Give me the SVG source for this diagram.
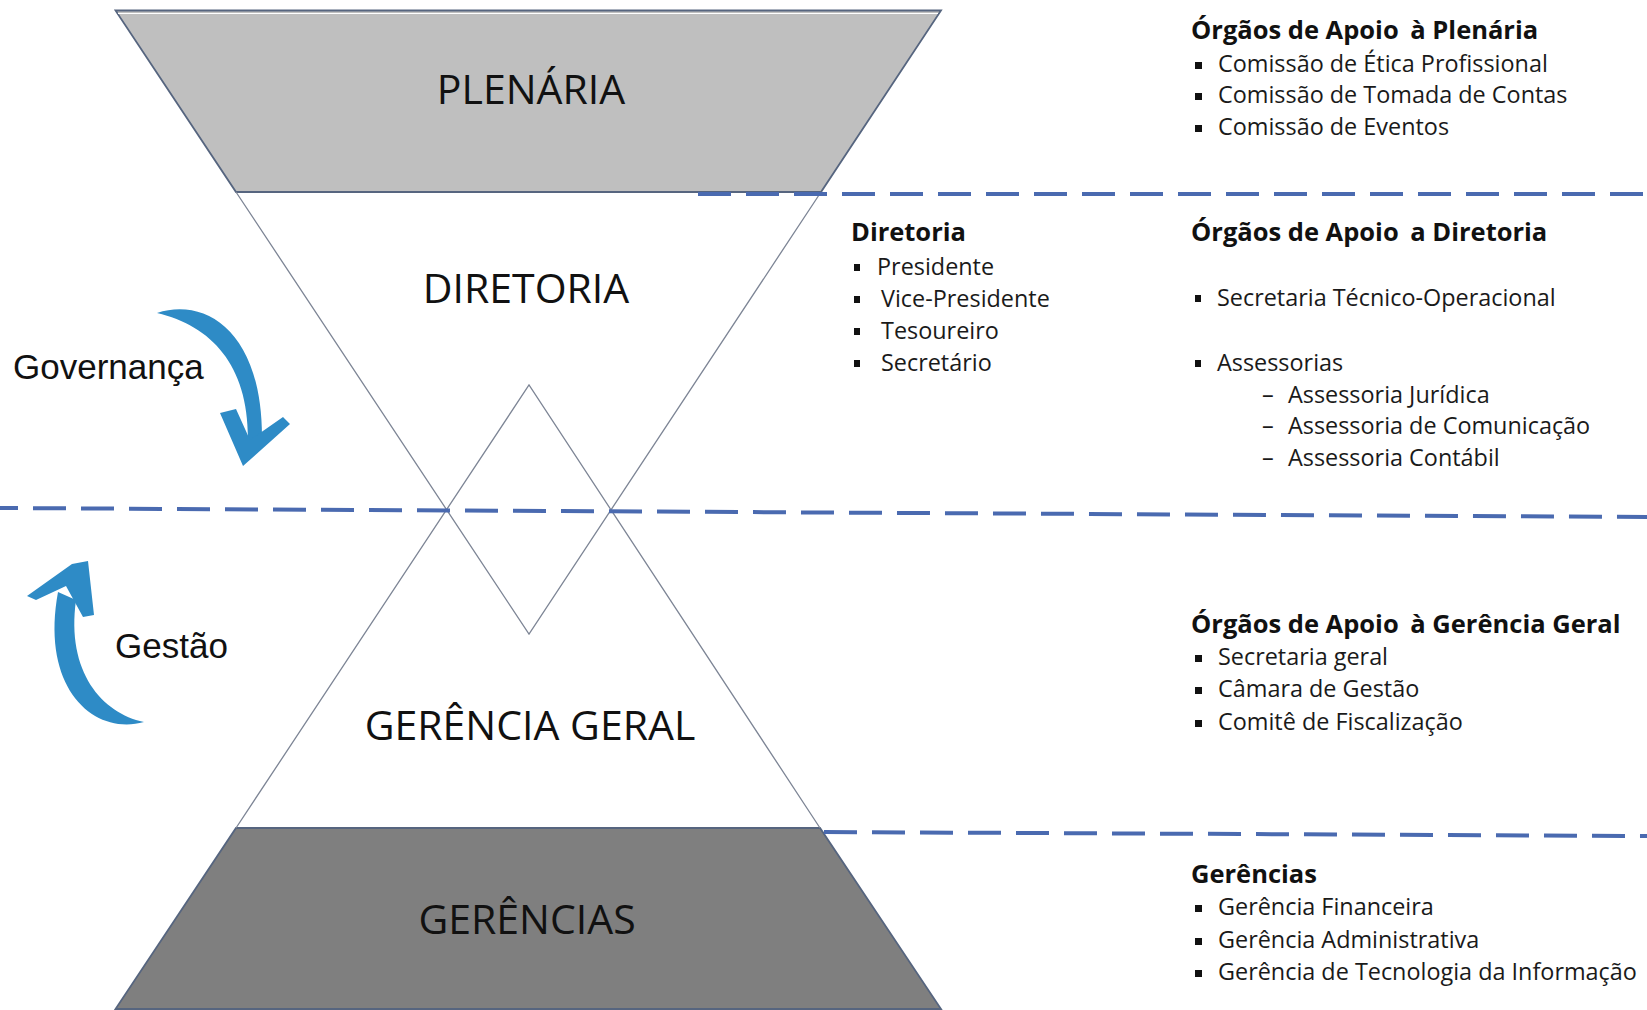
<svg xmlns="http://www.w3.org/2000/svg" width="1647" height="1010" viewBox="0 0 1647 1010">
  <style>
    .big { font-family: "Open Sans", "Noto Sans", sans-serif; font-size: 41px; fill: #111; text-anchor: middle; }
    .h { font-family: "Open Sans", "Noto Sans", sans-serif; font-weight: 700; font-size: 25.5px; fill: #111; }
    .li { font-family: "Open Sans", "Noto Sans", sans-serif; font-size: 23.4px; fill: #1a1a1a; }
    .side { font-family: "Liberation Sans", Arial, sans-serif; font-size: 35px; fill: #111; }
    .tri { fill: none; stroke: #7d8595; stroke-width: 1.3; }
    .band { stroke: #56657f; stroke-width: 1.8; }
    .dash { fill: none; stroke: #4a6ab0; stroke-width: 4; stroke-dasharray: 33 15; }
    .arrow { fill: #2e8bc6; }
    .bul { fill: #111; }
  </style>

  <!-- bands -->
  <g id="plenaria">
    <polygon class="band" points="115.5,10.5 941,10.5 821,192 236,192" fill="#bfbfbf"/>
    <line x1="118" y1="13.5" x2="938" y2="13.5" stroke="#ffffff" stroke-width="1.2"/>
    <text class="big" x="531" y="104">PLENÁRIA</text>
  </g>
  <g id="gerencias">
    <polygon class="band" points="236,828 820,828 941,1009 115.5,1009" fill="#7f7f7f"/>
    <text class="big" x="527" y="934">GERÊNCIAS</text>
  </g>

  <!-- triangle outlines -->
  <g id="triangles">
    <polyline class="tri" points="236,192 529,634 821,192"/>
    <polyline class="tri" points="236,828 529,385 820,828"/>
  </g>

  <g id="diretoria">
    <text class="big" x="526" y="303">DIRETORIA</text>
  </g>
  <g id="gerencia-geral">
    <text class="big" x="530" y="740">GERÊNCIA GERAL</text>
  </g>

  <!-- separators and arrows -->
  <g id="connectors">
    <line class="dash" x1="698" y1="194" x2="1647" y2="194"/>
    <line class="dash" x1="0" y1="508" x2="1647" y2="517" stroke-dashoffset="15"/>
    <line class="dash" x1="824" y1="832" x2="1647" y2="836"/>
    <g id="arrow-governanca" class="arrow">
      <path d="M157,313 C206,297 263,332 262,440 L248,441 C249,366 212,326 157,313 Z"/>
      <polygon points="243,466 220,413 236,409 250,440 283,417 290,424"/>
    </g>
    <g id="arrow-gestao" class="arrow">
      <path d="M144,722 C95,736 40,690 58,592 L76,600 C66,672 102,713 144,722 Z"/>
      <polygon points="72,564 88,561 94,615 83,617 66,586 36,600 27,596"/>
    </g>
  </g>

  <g id="governanca">
    <text class="side" x="13" y="379">Governança</text>
  </g>
  <g id="gestao">
    <text class="side" x="115" y="658">Gestão</text>
  </g>

  <!-- right-hand lists -->
  <g id="apoio-plenaria">
    <text class="h" x="1191" y="39">Órgãos de Apoio <tspan dx="5">à Plenária</tspan></text>
    <rect class="bul" x="1195" y="62" width="7" height="7"/>
    <text class="li" x="1218" y="72">Comissão de Ética Profissional</text>
    <rect class="bul" x="1195" y="93" width="7" height="7"/>
    <text class="li" x="1218" y="103">Comissão de Tomada de Contas</text>
    <rect class="bul" x="1195" y="125" width="7" height="7"/>
    <text class="li" x="1218" y="135">Comissão de Eventos</text>
  </g>

  <g id="diretoria-lista">
    <text class="h" x="851" y="241">Diretoria</text>
    <rect class="bul" x="854" y="264" width="6" height="7"/>
    <text class="li" x="877" y="275">Presidente</text>
    <rect class="bul" x="854" y="296" width="6" height="7"/>
    <text class="li" x="881" y="307">Vice-Presidente</text>
    <rect class="bul" x="854" y="328" width="6" height="7"/>
    <text class="li" x="881" y="339">Tesoureiro</text>
    <rect class="bul" x="854" y="360" width="6" height="7"/>
    <text class="li" x="881" y="371">Secretário</text>
  </g>

  <g id="apoio-diretoria">
    <text class="h" x="1191" y="241">Órgãos de Apoio <tspan dx="5">a Diretoria</tspan></text>
    <rect class="bul" x="1195" y="295" width="6" height="7"/>
    <text class="li" x="1217" y="306">Secretaria Técnico-Operacional</text>
    <rect class="bul" x="1195" y="360" width="6" height="7"/>
    <text class="li" x="1217" y="371">Assessorias</text>
    <text class="li" x="1262" y="403">–</text>
    <text class="li" x="1288" y="403">Assessoria Jurídica</text>
    <text class="li" x="1262" y="434">–</text>
    <text class="li" x="1288" y="434">Assessoria de Comunicação</text>
    <text class="li" x="1262" y="466">–</text>
    <text class="li" x="1288" y="466">Assessoria Contábil</text>
  </g>

  <g id="apoio-gerencia-geral">
    <text class="h" x="1191" y="633">Órgãos de Apoio <tspan dx="5">à Gerência Geral</tspan></text>
    <rect class="bul" x="1195" y="655" width="7" height="7"/>
    <text class="li" x="1218" y="665">Secretaria geral</text>
    <rect class="bul" x="1195" y="687" width="7" height="7"/>
    <text class="li" x="1218" y="697">Câmara de Gestão</text>
    <rect class="bul" x="1195" y="720" width="7" height="7"/>
    <text class="li" x="1218" y="730">Comitê de Fiscalização</text>
  </g>

  <g id="gerencias-lista">
    <text class="h" x="1191" y="883">Gerências</text>
    <rect class="bul" x="1195" y="905" width="7" height="7"/>
    <text class="li" x="1218" y="915">Gerência Financeira</text>
    <rect class="bul" x="1195" y="938" width="7" height="7"/>
    <text class="li" x="1218" y="948">Gerência Administrativa</text>
    <rect class="bul" x="1195" y="970" width="7" height="7"/>
    <text class="li" x="1218" y="980">Gerência de Tecnologia da Informação</text>
  </g>
</svg>
